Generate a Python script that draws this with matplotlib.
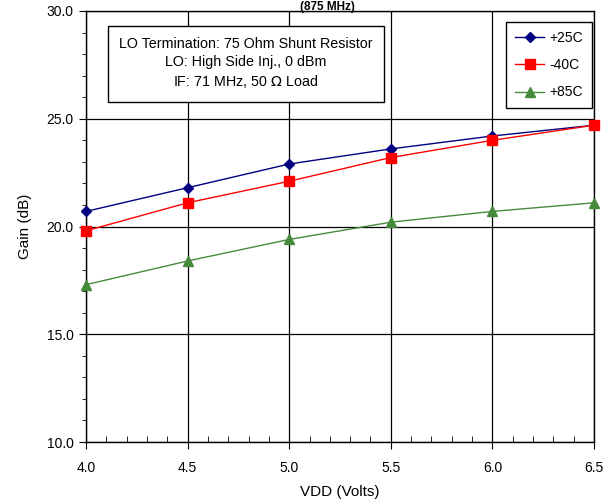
import matplotlib
matplotlib.use("Agg")
import matplotlib.pyplot as plt
from matplotlib.ticker import MultipleLocator, FormatStrFormatter

plt.rcParams['font.family'] = ['Liberation Sans', 'DejaVu Sans']

vdd = [4.0, 4.5, 5.0, 5.5, 6.0, 6.5]
gain_p25 = [20.7, 21.8, 22.9, 23.6, 24.2, 24.7]
gain_m40 = [19.8, 21.1, 22.1, 23.2, 24.0, 24.7]
gain_p85 = [17.3, 18.4, 19.4, 20.2, 20.7, 21.1]

W, H = 612, 501
fig = plt.figure(figsize=(W/100, H/100), dpi=100)
ax = fig.add_axes([86/W, 1-442/H, (594-86)/W, (442-11)/H])

ax.plot(vdd, gain_p25, color='#000080', marker='D', markersize=5, lw=1, label='+25C', clip_on=False, zorder=5)
ax.plot(vdd, gain_m40, color='#FF0000', marker='s', markersize=7, lw=1, label='-40C', clip_on=False, zorder=5)
ax.plot(vdd, gain_p85, color='#468a3c', marker='^', markersize=7, lw=1, label='+85C', clip_on=False, zorder=5)

ax.set_xlim(4.0, 6.5)
ax.set_ylim(10.0, 30.0)
ax.xaxis.set_major_locator(MultipleLocator(0.5))
ax.xaxis.set_minor_locator(MultipleLocator(0.1))
ax.yaxis.set_major_locator(MultipleLocator(5))
ax.yaxis.set_minor_locator(MultipleLocator(1))
ax.xaxis.set_major_formatter(FormatStrFormatter('%.1f'))
ax.yaxis.set_major_formatter(FormatStrFormatter('%.1f'))
ax.grid(True, which='major', color='black', lw=0.9)
ax.tick_params(axis='x', which='major', direction='out', length=5, labelsize=10, pad=9)
ax.tick_params(axis='x', which='minor', direction='in', length=4)
ax.tick_params(axis='y', which='major', direction='out', length=5, labelsize=10, pad=4)
ax.tick_params(axis='y', which='minor', direction='out', length=3)
for s in ax.spines.values():
    s.set_linewidth(1.0)
    s.set_color('black')

ax.set_xlabel('VDD (Volts)', fontsize=11, labelpad=7)
ax.set_ylabel('Gain (dB)', fontsize=11, labelpad=10)

ax.text((246-86)/508, (442-63.5)/431,
        'LO Termination: 75 Ohm Shunt Resistor\nLO: High Side Inj., 0 dBm\nIF: 71 MHz, 50 $\\Omega$ Load',
        transform=ax.transAxes, ha='center', va='center', fontsize=10.3, linespacing=1.35,
        bbox=dict(boxstyle='square,pad=0.8', facecolor='white', edgecolor='black', lw=1), zorder=6)

leg = ax.legend(loc='upper right', bbox_to_anchor=(592/W, 1-22/H), bbox_transform=fig.transFigure,
                borderaxespad=0, fancybox=False, edgecolor='black',
                fontsize=10, framealpha=1, borderpad=0.65, labelspacing=0.95,
                handlelength=2.1, handletextpad=0.35)
leg.get_frame().set_linewidth(1.0)
leg.set_zorder(7)

fig.text(327/W, 0.999, '(875 MHz)', ha='center', va='top', fontsize=8.5, fontweight='bold')

fig.savefig('out.png', dpi=100)
